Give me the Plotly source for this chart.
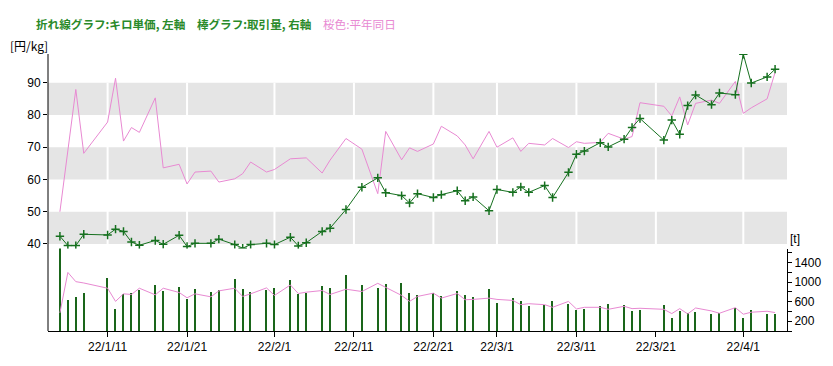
import plotly.graph_objects as go

dates = [
    "2022-01-05", "2022-01-06", "2022-01-07", "2022-01-08", "2022-01-11", "2022-01-12", "2022-01-13",
    "2022-01-14", "2022-01-15", "2022-01-17", "2022-01-18", "2022-01-20", "2022-01-21", "2022-01-22",
    "2022-01-24", "2022-01-25", "2022-01-27", "2022-01-28", "2022-01-29", "2022-01-31",
    "2022-02-01", "2022-02-03", "2022-02-04", "2022-02-05", "2022-02-07", "2022-02-08", "2022-02-10",
    "2022-02-12", "2022-02-14", "2022-02-15", "2022-02-17", "2022-02-18", "2022-02-19", "2022-02-21",
    "2022-02-22", "2022-02-24", "2022-02-25", "2022-02-26", "2022-02-28",
    "2022-03-01", "2022-03-03", "2022-03-04", "2022-03-05", "2022-03-07", "2022-03-08", "2022-03-10",
    "2022-03-11", "2022-03-12", "2022-03-14", "2022-03-15", "2022-03-17", "2022-03-18", "2022-03-19",
    "2022-03-22", "2022-03-23", "2022-03-24", "2022-03-25", "2022-03-26", "2022-03-28", "2022-03-29",
    "2022-03-31",
    "2022-04-01", "2022-04-02", "2022-04-04", "2022-04-05",
]

price = [
    42.4, 39.5, 39.5, 43.0, 42.8, 44.6, 43.9, 40.6, 39.6, 41.1, 39.9, 42.7, 39.2, 40.2, 40.2, 41.5,
    39.8, 38.7, 39.8, 40.2,
    39.8, 42.1, 39.4, 40.4, 43.9, 44.9, 50.7, 57.6, 60.5, 55.9, 55.0, 52.7, 55.6, 54.4, 55.3, 56.5,
    53.4, 54.6, 50.3,
    56.9, 56.0, 57.7, 56.0, 58.1, 54.4, 62.2, 67.8, 68.8, 71.4, 70.1, 72.5, 76.1, 78.9, 72.2, 78.4,
    74.0, 82.9, 86.2, 83.2, 86.8, 86.3,
    98.8, 89.9, 91.8, 94.2,
]

price_normal = [
    50.0, 69.0, 87.9, 68.1, 77.8, 91.4, 71.9, 76.1, 74.6, 85.3, 63.6, 64.7, 58.6, 62.3, 62.6, 59.2,
    60.2, 61.8, 65.4, 62.3,
    63.1, 66.4, 66.6, 66.7, 62.0, 66.0, 72.7, 69.4, 55.6, 74.9, 66.1, 69.8, 68.7, 71.0, 76.5, 73.5,
    70.7, 66.4, 74.9,
    70.0, 72.9, 68.7, 71.2, 70.7, 72.7, 69.9, 71.7, 71.2, 71.5, 74.3, 72.5, 73.3, 83.8, 82.7, 79.7,
    85.6, 76.9, 83.6, 84.6, 83.6, 90.4,
    80.5, 82.2, 85.0, 93.2,
]

volume = [
    1707, 640, 715, 796, 1100, 458, 762, 796, 843, 944, 830, 917, 661, 877, 803, 857, 1066, 877, 816, 857,
    897, 1059, 776, 783, 938, 897, 1147, 958, 897, 978, 998, 796, 756, 796, 735, 836, 756, 715, 877,
    573, 695, 614, 519, 540, 614, 560, 445, 459, 513, 553, 533, 418, 432, 533, 276, 411, 371, 391, 357,
    371, 472,
    270, 432, 357, 357,
]

volume_normal = [
    371, 1201, 1012, 985, 877, 607, 762, 749, 877, 742, 877, 790, 681, 762, 701, 823, 877, 709, 762, 884,
    729, 944, 769, 796, 830, 749, 857, 810, 978, 897, 729, 607, 709, 776, 674, 769, 641, 648, 674,
    648, 627, 540, 560, 540, 486, 607, 452, 486, 486, 445, 506, 459, 466, 445, 357, 459, 351, 472, 411,
    364, 479,
    344, 385, 405, 378,
]

tick_dates = ["2022-01-11", "2022-01-21", "2022-02-01", "2022-02-11", "2022-02-21",
              "2022-03-01", "2022-03-11", "2022-03-21", "2022-04-01"]
tick_labels = ["22/1/11", "22/1/21", "22/2/1", "22/2/11", "22/2/21",
               "22/3/1", "22/3/11", "22/3/21", "22/4/1"]

left_ticks = [40, 50, 60, 70, 80, 90]
band_lows = [40, 60, 80]

GREEN = "#16701f"
BAR_GREEN = "#1a661a"
PINK = "#e889d2"
FONT = "Liberation Sans"

fig = go.Figure()

fig.add_trace(go.Scatter(
    x=dates, y=price_normal, mode="lines", yaxis="y", xaxis="x",
    line=dict(color=PINK, width=1), connectgaps=True, showlegend=False,
))
fig.add_trace(go.Scatter(
    x=dates, y=price, mode="lines+markers", yaxis="y", xaxis="x",
    line=dict(color=GREEN, width=1),
    marker=dict(symbol="cross-thin", size=6, line=dict(color=GREEN, width=1.5)),
    showlegend=False,
))
fig.add_trace(go.Bar(
    x=dates, y=volume, yaxis="y2", xaxis="x",
    width=0.17 * 86400000, marker=dict(color=BAR_GREEN, line=dict(width=0)),
    showlegend=False,
))
fig.add_trace(go.Scatter(
    x=dates, y=volume_normal, mode="lines", yaxis="y2", xaxis="x",
    line=dict(color=PINK, width=1), showlegend=False,
))

shapes = []
for lo in band_lows:
    shapes.append(dict(type="rect", xref="paper", yref="y", x0=0, x1=1, y0=lo, y1=lo + 10,
                       fillcolor="#e5e5e5", line=dict(width=0), layer="below"))
for d in tick_dates:
    shapes.append(dict(type="line", xref="x", yref="y", x0=d, x1=d, y0=40, y1=90,
                       line=dict(color="white", width=2), layer="below"))
shapes.append(dict(type="line", xref="paper", yref="paper", x0=0, x1=0, y0=0, y1=1,
                   line=dict(color="black", width=1)))

W, H = 833, 366
ML, MR, MT, MB = 48, 34, 54, 32
PW, PH = W - ML - MR, H - MT - MB


def px(xp):
    return (xp - ML) / PW


def py(yp):
    return (H - MB - yp) / PH


annotations = [
    dict(xref="paper", yref="paper", x=px(34), y=py(24), xanchor="left", yanchor="middle",
         showarrow=False, font=dict(family="Noto Sans CJK JP", size=11.6, color="#2a8a2a"),
         text="<b>折れ線グラフ:キロ単価, 左軸　棒グラフ:取引量, 右軸</b>　"
              "<span style='color:" + PINK + "'>桜色:平年同日</span>"),
    dict(xref="paper", yref="paper", x=px(7), y=py(45), xanchor="left", yanchor="middle",
         showarrow=False, font=dict(family="Noto Sans CJK JP", size=12, color="black"),
         text="[円/kg]"),
    dict(xref="paper", yref="paper", x=px(800), y=py(241), xanchor="left", yanchor="middle",
         showarrow=False, font=dict(family=FONT, size=12, color="black"),
         text="[t]"),
]

fig.update_layout(
    width=W, height=H,
    margin=dict(l=ML, r=MR, t=MT, b=MB, pad=0),
    paper_bgcolor="white", plot_bgcolor="white",
    bargap=0,
    shapes=shapes, annotations=annotations,
    xaxis=dict(
        type="date", domain=[0, 1], anchor="y2",
        range=["2022-01-03 12:00", "2022-04-06 12:00"],
        tickmode="array", tickvals=tick_dates, ticktext=tick_labels,
        ticks="outside", ticklen=5, tickcolor="black", tickwidth=1,
        showline=True, linecolor="black", linewidth=1,
        showgrid=False, zeroline=False,
        tickfont=dict(family=FONT, size=12, color="black"),
    ),
    yaxis=dict(
        domain=[py(251.9), 1], anchor="x",
        range=[38.2, 98.9],
        tickmode="array", tickvals=left_ticks,
        ticks="outside", ticklen=4, tickcolor="black",
        showline=False, showgrid=False, zeroline=False,
        tickfont=dict(family=FONT, size=12, color="black"),
    ),
    yaxis2=dict(
        domain=[0, py(250.7)], anchor="x", side="right",
        range=[0, 1690],
        tickmode="linear", tick0=200, dtick=400,
        ticks="outside", ticklen=4, tickcolor="black",
        minor=dict(tick0=0, dtick=200, ticks="outside", ticklen=4, tickcolor="black"),
        showline=True, linecolor="black", linewidth=1,
        showgrid=False, zeroline=False,
        tickfont=dict(family=FONT, size=12, color="black"),
    ),
)

fig.write_html("out.html")
